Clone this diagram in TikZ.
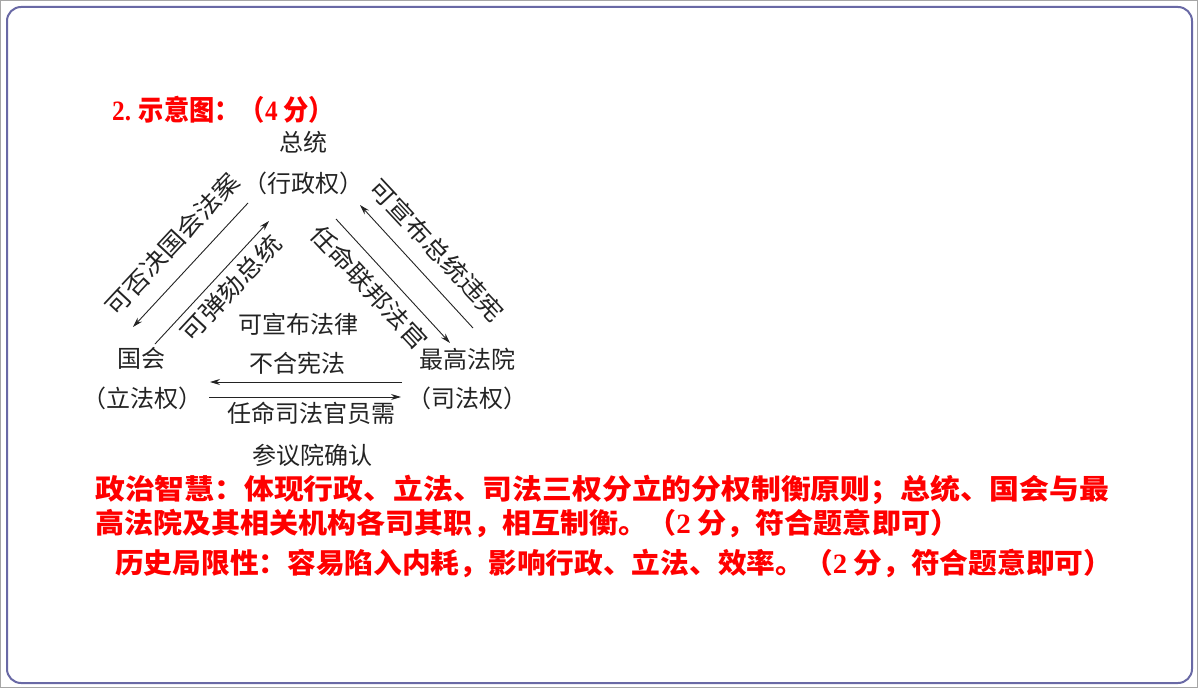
\documentclass[tikz,border=0pt]{standalone}
\usepackage{fontspec}
\usepackage{graphicx}
\setmainfont{Liberation Serif}
\newfontfamily\cjk{Noto Sans CJK SC}
\usetikzlibrary{arrows.meta}
\definecolor{frame}{RGB}{105,105,165}
\definecolor{ink}{RGB}{35,35,35}
\definecolor{ansred}{RGB}{255,0,0}
\newcommand{\fitw}[2]{\resizebox{#1}{\height}{#2}}
\begin{document}
\begin{tikzpicture}[x=1pt,y=-1pt,
  lbl/.style={inner sep=0pt, text=ink, font=\cjk\fontsize{24}{28}\selectfont},
  redline/.style={inner sep=0pt, anchor=west, text=ansred, font=\cjk\bfseries\fontsize{28}{32}\selectfont},
  arr/.style={draw=ink, line width=0.9pt, -{Stealth[length=10pt,width=6pt]}}]
\useasboundingbox (0,0) rectangle (1200,690);
\draw[gray!70, line width=1pt] (0.5,0.5) rectangle (1197,687);
\draw[frame, line width=2pt, rounded corners=14pt] (7,7) rectangle (1192,683);
% title
\node[redline] (title) at (112,110) {\fitw{222pt}{{\rmfamily\bfseries 2.} 示意图：（{\rmfamily\bfseries 4} 分）}};
% diagram nodes
\node[lbl] (pres) at (303,142) {总统};
\node[lbl] (presp) at (303,183) {（行政权）};
\node[lbl] (cong) at (141,358) {国会};
\node[lbl] (congp) at (142,398) {（立法权）};
\node[lbl] (court) at (467,359) {最高法院};
\node[lbl] (courtp) at (467,398) {（司法权）};
\node[lbl] (t1) at (298,324) {可宣布法律};
\node[lbl] (t2) at (297,363) {不合宪法};
\node[lbl] (t3) at (311,413) {任命司法官员需};
\node[lbl] (t4) at (312,455) {参议院确认};
\node[lbl, rotate=47] (r1) at (172,244) {\fitw{183pt}{可否决国会法案}};
\node[lbl, rotate=47] (r2) at (231,288) {\fitw{134pt}{可弹劾总统}};
\node[lbl, rotate=-47] (r3) at (369,287) {\fitw{159pt}{任命联邦法官}};
\node[lbl, rotate=-47] (r4) at (437,250) {\fitw{183pt}{可宣布总统违宪}};
% arrows
\coordinate (a1s) at (248,203); \coordinate (a1e) at (133,327);
\coordinate (a2s) at (155,344); \coordinate (a2e) at (269,221);
\coordinate (a3s) at (336,219); \coordinate (a3e) at (450,343);
\coordinate (a4s) at (473,328); \coordinate (a4e) at (360,205);
\coordinate (a5s) at (402,382); \coordinate (a5e) at (210,382);
\coordinate (a6s) at (209,397); \coordinate (a6e) at (401,397);
\draw[arr] (a1s) -- (a1e);
\draw[arr] (a2s) -- (a2e);
\draw[arr] (a3s) -- (a3e);
\draw[arr] (a4s) -- (a4e);
\draw[arr] (a5s) -- (a5e);
\draw[arr] (a6s) -- (a6e);
% answer text
\node[redline] (l1) at (95,490) {\fitw{1014pt}{政治智慧：体现行政、立法、司法三权分立的分权制衡原则；总统、国会与最}};
\node[redline] (l2) at (95,523) {\fitw{864pt}{高法院及其相关机构各司其职，相互制衡。（{\rmfamily\bfseries 2} 分，符合题意即可）}};
\node[redline] (l3) at (115,563) {\fitw{997pt}{历史局限性：容易陷入内耗，影响行政、立法、效率。（{\rmfamily\bfseries 2} 分，符合题意即可）}};
\end{tikzpicture}
\end{document}
